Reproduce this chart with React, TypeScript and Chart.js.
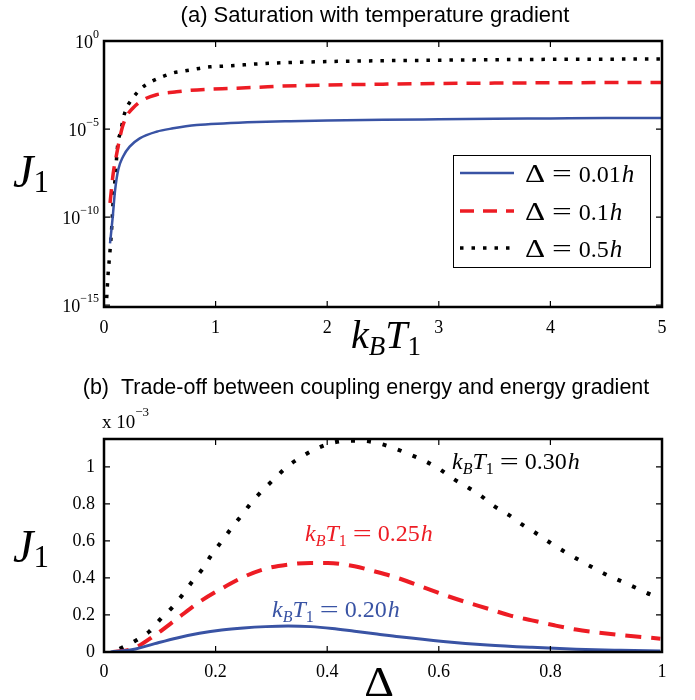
import React, { useEffect, useRef } from "react";
import { Chart, registerables } from "chart.js";
Chart.register(...registerables);

const SERIF = '"Liberation Serif", "Times New Roman", serif';
const SANS = '"Liberation Sans", Arial, sans-serif';
const BLUE = "#3953A4";
const RED = "#ED1C24";
const BLACK = "#000000";

// ---------- Panel (a): J1 vs k_B T_1 ----------
const tempTicks = [0, 1, 2, 3, 4, 5];
const logTicks = [1, 1e-5, 1e-10, 1e-15];
const logTickExp = ["0", "\u22125", "\u221210", "\u221215"];

const blueA_T = [0.054, 0.078, 0.099, 0.128, 0.17, 0.23, 0.32, 0.47, 0.62, 0.83, 1.07, 1.37, 1.67, 2, 2.5, 3, 3.5, 4, 4.5, 5];
const blueA_J = [3.2e-12, 1e-10, 3.2e-9, 5.0e-8, 2.7e-7, 1.0e-6, 2.95e-6, 7.1e-6, 1.1e-5, 1.7e-5, 2.1e-5, 2.5e-5, 2.8e-5, 3.1e-5, 3.4e-5, 3.6e-5, 3.8e-5, 4.0e-5, 4.2e-5, 4.27e-5];

const redA_T = [0.054, 0.083, 0.114, 0.16, 0.2, 0.26, 0.35, 0.47, 0.65, 0.92, 1.13, 1.37, 1.6, 2, 2.5, 3, 3.5, 4, 4.5, 5];
const redA_J = [6.3e-10, 3.2e-8, 4.0e-7, 1.0e-5, 5.0e-5, 1.58e-4, 4.5e-4, 8.9e-4, 1.32e-3, 1.82e-3, 2.04e-3, 2.34e-3, 2.75e-3, 3.16e-3, 3.55e-3, 3.9e-3, 4.07e-3, 4.27e-3, 4.37e-3, 4.47e-3];

const blackA_T = [0.024, 0.036, 0.054, 0.069, 0.081, 0.099, 0.114, 0.125, 0.15, 0.17, 0.2, 0.26, 0.33, 0.42, 0.52, 0.62, 0.73, 0.83, 0.95, 1.14, 1.37, 1.58, 2, 2.5, 3, 3.5, 4, 4.5, 5];
const blackA_J = [2.5e-15, 5.0e-14, 1.26e-12, 2.5e-11, 6.3e-10, 1.4e-8, 2.8e-7, 1.74e-6, 7.2e-6, 3.5e-5, 1.45e-4, 6.0e-4, 1.95e-3, 4.8e-3, 9.3e-3, 1.55e-2, 2.04e-2, 2.63e-2, 3.4e-2, 3.9e-2, 5.0e-2, 5.75e-2, 6.8e-2, 7.6e-2, 8.1e-2, 8.7e-2, 9.1e-2, 9.3e-2, 9.5e-2];

const legendA = ["0.01", "0.1", "0.5"];

// ---------- Panel (b): J1 (x 10^-3) vs Delta ----------
const deltaTicks = [0, 0.2, 0.4, 0.6, 0.8, 1];
const jTicks = [0, 0.2, 0.4, 0.6, 0.8, 1];

const blueB_D = [0.012, 0.052, 0.091, 0.131, 0.171, 0.211, 0.25, 0.29, 0.33, 0.37, 0.409, 0.449, 0.489, 0.529, 0.608, 0.687, 0.767, 0.846, 0.926, 0.997];
const blueB_J = [0, 0.013, 0.045, 0.076, 0.101, 0.119, 0.13, 0.137, 0.14, 0.137, 0.127, 0.112, 0.097, 0.082, 0.057, 0.038, 0.025, 0.015, 0.009, 0.005];

const redB_D = [0.016, 0.052, 0.091, 0.131, 0.171, 0.211, 0.25, 0.29, 0.33, 0.37, 0.401, 0.449, 0.489, 0.529, 0.568, 0.608, 0.648, 0.687, 0.727, 0.767, 0.807, 0.846, 0.886, 0.926, 0.997];
const redB_J = [0, 0.018, 0.09, 0.18, 0.27, 0.343, 0.405, 0.45, 0.472, 0.481, 0.481, 0.463, 0.432, 0.397, 0.355, 0.31, 0.27, 0.235, 0.198, 0.171, 0.144, 0.121, 0.105, 0.092, 0.072];

const blackB_D = [0.028, 0.056, 0.081, 0.101, 0.122, 0.141, 0.159, 0.177, 0.193, 0.211, 0.228, 0.247, 0.265, 0.286, 0.306, 0.328, 0.352, 0.378, 0.405, 0.435, 0.463, 0.493, 0.52, 0.548, 0.576, 0.602, 0.625, 0.652, 0.676, 0.699, 0.726, 0.749, 0.775, 0.799, 0.824, 0.85, 0.876, 0.902, 0.93, 0.956, 0.983, 1.0];
const blackB_J = [0.018, 0.06, 0.11, 0.177, 0.24, 0.31, 0.384, 0.45, 0.526, 0.598, 0.667, 0.739, 0.81, 0.878, 0.937, 1.0, 1.05, 1.094, 1.126, 1.14, 1.14, 1.126, 1.1, 1.067, 1.03, 0.986, 0.937, 0.889, 0.842, 0.788, 0.739, 0.689, 0.64, 0.591, 0.544, 0.499, 0.456, 0.415, 0.378, 0.343, 0.306, 0.29];

const annotB = ["0.20", "0.25", "0.30"];

const pts = (xs: number[], ys: number[]) => xs.map((x, i) => ({ x, y: ys[i] }));

type Part = { t: string; f: string; dy?: number; dx?: number; sx?: number };
function drawParts(ctx: CanvasRenderingContext2D, parts: Part[], x: number, y: number, align: "left" | "center" | "right", color: string) {
  let w = 0;
  for (const p of parts) {
    ctx.font = p.f;
    w += ctx.measureText(p.t).width * (p.sx || 1) + (p.dx || 0);
  }
  let cx = align === "left" ? x : align === "center" ? x - w / 2 : x - w;
  ctx.fillStyle = color;
  ctx.textBaseline = "alphabetic";
  ctx.textAlign = "left";
  for (const p of parts) {
    ctx.font = p.f;
    cx += p.dx || 0;
    const sx = p.sx || 1;
    ctx.save();
    ctx.translate(cx, y + (p.dy || 0));
    ctx.scale(sx, 1);
    ctx.fillText(p.t, 0, 0);
    ctx.restore();
    cx += ctx.measureText(p.t).width * sx;
  }
}

function drawFrame(chart: any, xTicks: number[], yTicks: number[]) {
  const ctx: CanvasRenderingContext2D = chart.ctx;
  const { left, right, top, bottom } = chart.chartArea;
  const xs = chart.scales.x;
  const ys = chart.scales.y;
  ctx.save();
  ctx.strokeStyle = BLACK;
  ctx.lineWidth = 1.2;
  ctx.beginPath();
  for (const v of xTicks) {
    const px = xs.getPixelForValue(v);
    ctx.moveTo(px, bottom);
    ctx.lineTo(px, bottom - 6);
    ctx.moveTo(px, top);
    ctx.lineTo(px, top + 6);
  }
  for (const v of yTicks) {
    const py = ys.getPixelForValue(v);
    ctx.moveTo(left, py);
    ctx.lineTo(left + 6, py);
    ctx.moveTo(right, py);
    ctx.lineTo(right - 6, py);
  }
  ctx.stroke();
  ctx.lineWidth = 2.5;
  ctx.strokeRect(left, top, right - left, bottom - top);
  ctx.restore();
}

function kT(size: number, sub: number, sdy: number, tail: Part[]): Part[] {
  return [
    { t: "k", f: `italic ${size}px ${SERIF}` },
    { t: "B", f: `italic ${sub}px ${SERIF}`, dy: sdy },
    { t: "T", f: `italic ${size}px ${SERIF}` },
    { t: "1", f: `${sub}px ${SERIF}`, dy: sdy },
    ...tail,
  ];
}

const plugA = {
  id: "decorA",
  afterDraw(chart: any) {
    const ctx: CanvasRenderingContext2D = chart.ctx;
    drawFrame(chart, tempTicks, logTicks);
    const ys = chart.scales.y;
    const { left, right } = chart.chartArea;
    ctx.save();
    logTicks.forEach((v, i) => {
      const py = ys.getPixelForValue(v);
      drawParts(ctx, [
        { t: "10", f: `18px ${SERIF}` },
        { t: logTickExp[i], f: `12px ${SERIF}`, dy: -10 },
      ], 99, py + 7, "right", BLACK);
    });
    drawParts(ctx, [{ t: "(a) Saturation with temperature gradient", f: `22px ${SANS}` }], 375, 22, "center", BLACK);
    drawParts(ctx, [
      { t: "J", f: `italic 46px ${SERIF}` },
      { t: "1", f: `31px ${SERIF}`, dy: 5 },
    ], 13, 187, "left", BLACK);
    drawParts(ctx, kT(40, 27, 7, []), (left + right) / 2 + 3, 348, "center", BLACK);
    const bx = 453, by = 155, bw = 197, bh = 112;
    ctx.fillStyle = "#fff";
    ctx.fillRect(bx, by, bw, bh);
    ctx.strokeStyle = BLACK;
    ctx.lineWidth = 1;
    ctx.strokeRect(bx + 0.5, by + 0.5, bw, bh);
    const rows = [173, 211, 248];
    chart.data.datasets.forEach((ds: any, i: number) => {
      const ry = rows[i];
      ctx.save();
      ctx.strokeStyle = ds.borderColor;
      ctx.lineWidth = ds.borderWidth;
      ctx.setLineDash(ds.borderDash || []);
      ctx.beginPath();
      ctx.moveTo(460, ry);
      ctx.lineTo(514, ry);
      ctx.stroke();
      ctx.restore();
      drawParts(ctx, [
        { t: "\u0394", f: `25px ${SERIF}`, sx: 1.25 },
        { t: "=", f: `25px ${SERIF}`, dx: 7, sx: 1.4 },
        { t: legendA[i], f: `24px ${SERIF}`, dx: 7 },
        { t: "h", f: `italic 25px ${SERIF}`, dx: 1 },
      ], 525, ry + 9, "left", BLACK);
    });
    ctx.restore();
  },
};

const plugB = {
  id: "decorB",
  afterDraw(chart: any) {
    const ctx: CanvasRenderingContext2D = chart.ctx;
    drawFrame(chart, deltaTicks, jTicks);
    const { left, right } = chart.chartArea;
    ctx.save();
    drawParts(ctx, [{ t: "(b)  Trade-off between coupling energy and energy gradient", f: `21.5px ${SANS}` }], 366, 34, "center", BLACK);
    drawParts(ctx, [
      { t: "x 10", f: `19px ${SERIF}` },
      { t: "\u22123", f: `13px ${SERIF}`, dy: -12 },
    ], 102, 68, "left", BLACK);
    drawParts(ctx, [
      { t: "J", f: `italic 46px ${SERIF}` },
      { t: "1", f: `31px ${SERIF}`, dy: 5 },
    ], 13, 202, "left", BLACK);
    drawParts(ctx, [{ t: "\u0394", f: `42px ${SERIF}`, sx: 1.1 }], (left + right) / 2 - 4, 336, "center", BLACK);
    const annPos = [
      { x: 272, y: 257, c: BLUE },
      { x: 305, y: 181, c: RED },
      { x: 452, y: 109, c: BLACK },
    ];
    annPos.forEach((a, i) => {
      drawParts(ctx, kT(24, 16, 5, [
        { t: "=", f: `24px ${SERIF}`, dx: 6, sx: 1.4 },
        { t: annotB[i], f: `24px ${SERIF}`, dx: 6 },
        { t: "h", f: `italic 24px ${SERIF}`, dx: 1 },
      ]), a.x, a.y, "left", a.c);
    });
    ctx.restore();
  },
};

function ChartA() {
  const ref = useRef<HTMLCanvasElement>(null);
  useEffect(() => {
    const chart = new Chart(ref.current as HTMLCanvasElement, {
      type: "line",
      data: {
        datasets: [
          { label: "0.01", data: pts(blueA_T, blueA_J), borderColor: BLUE, borderWidth: 2.5, pointRadius: 0, cubicInterpolationMode: "monotone" },
          { label: "0.1", data: pts(redA_T, redA_J), borderColor: RED, borderWidth: 3.5, borderDash: [14, 9], pointRadius: 0, cubicInterpolationMode: "monotone" },
          { label: "0.5", data: pts(blackA_T, blackA_J), borderColor: BLACK, borderWidth: 3.5, borderDash: [3.5, 8], pointRadius: 0, cubicInterpolationMode: "monotone" },
        ],
      } as any,
      options: {
        animation: false,
        responsive: false,
        maintainAspectRatio: false,
        layout: { padding: { top: 41, right: 33, left: 0, bottom: 0 } },
        plugins: { legend: { display: false }, tooltip: { enabled: false } },
        scales: {
          x: {
            type: "linear", min: 0, max: 5,
            afterBuildTicks: (s: any) => { s.ticks = tempTicks.map((v) => ({ value: v })); },
            afterFit: (s: any) => { s.height = 53; },
            grid: { display: false, drawTicks: false },
            border: { display: false },
            ticks: { font: { family: SERIF, size: 18 }, color: BLACK, padding: 10, callback: (v: any) => String(v) },
          },
          y: {
            type: "logarithmic", min: 7.9e-16, max: 1,
            afterFit: (s: any) => { s.width = 104; },
            grid: { display: false, drawTicks: false },
            border: { display: false },
            ticks: { display: false },
          },
        },
      } as any,
      plugins: [plugA],
    });
    return () => chart.destroy();
  }, []);
  return <canvas ref={ref} width={695} height={360} style={{ position: "absolute", left: 0, top: 0, width: 695, height: 360 }} />;
}

function ChartB() {
  const ref = useRef<HTMLCanvasElement>(null);
  useEffect(() => {
    const chart = new Chart(ref.current as HTMLCanvasElement, {
      type: "line",
      data: {
        datasets: [
          { label: "0.20", data: pts(blueB_D, blueB_J), borderColor: BLUE, borderWidth: 3, pointRadius: 0, cubicInterpolationMode: "monotone" },
          { label: "0.25", data: pts(redB_D, redB_J), borderColor: RED, borderWidth: 4, borderDash: [16, 10], pointRadius: 0, cubicInterpolationMode: "monotone" },
          { label: "0.30", data: pts(blackB_D, blackB_J), borderColor: BLACK, borderWidth: 4, borderDash: [4, 12], pointRadius: 0, cubicInterpolationMode: "monotone" },
        ],
      } as any,
      options: {
        animation: false,
        responsive: false,
        maintainAspectRatio: false,
        layout: { padding: { top: 79, right: 33, left: 0, bottom: 0 } },
        plugins: { legend: { display: false }, tooltip: { enabled: false } },
        scales: {
          x: {
            type: "linear", min: 0, max: 1,
            afterBuildTicks: (s: any) => { s.ticks = deltaTicks.map((v) => ({ value: v })); },
            afterFit: (s: any) => { s.height = 48; },
            grid: { display: false, drawTicks: false },
            border: { display: false },
            ticks: { font: { family: SERIF, size: 18 }, color: BLACK, padding: 9, callback: (v: any) => String(v) },
          },
          y: {
            type: "linear", min: 0, max: 1.15,
            afterBuildTicks: (s: any) => { s.ticks = jTicks.map((v) => ({ value: v })); },
            afterFit: (s: any) => { s.width = 104; },
            grid: { display: false, drawTicks: false },
            border: { display: false },
            ticks: { font: { family: SERIF, size: 18 }, color: BLACK, padding: 9, callback: (v: any) => String(v) },
          },
        },
      } as any,
      plugins: [plugB],
    });
    return () => chart.destroy();
  }, []);
  return <canvas ref={ref} width={695} height={340} style={{ position: "absolute", left: 0, top: 360, width: 695, height: 340 }} />;
}

export default function App() {
  return (
    <div style={{ position: "absolute", left: 0, top: 0, width: 695, height: 700, background: "#fff" }}>
      <ChartA />
      <ChartB />
    </div>
  );
}
